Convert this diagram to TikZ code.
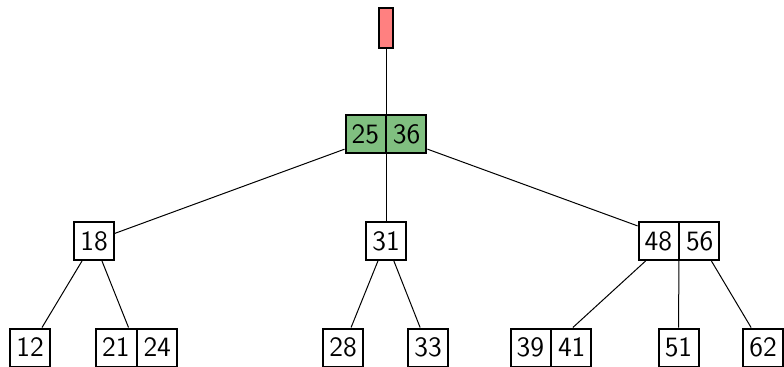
\documentclass[tikz,border=0pt]{standalone}
\usepackage{xcolor}
\usepackage{tikz}
\usetikzlibrary{shapes.multipart, positioning}

\begin{document}
\begin{tikzpicture}[
    x=0.5pt, y=-0.5pt,
    key/.style={rectangle, draw, line width=1pt, minimum width=20pt, minimum height=19pt, inner xsep=3pt, inner ysep=0pt, font=\sffamily\fontsize{14}{17}\selectfont},
    pair/.style={key, rectangle split, rectangle split horizontal, rectangle split parts=2},
    rootbox/.style={rectangle, draw, line width=1pt, fill=red!50, minimum width=7pt, minimum height=20pt, inner sep=0pt},
    link/.style={draw, line width=0.5pt}
]
\useasboundingbox (0,0) rectangle (784,366);

% root pointer and root node
\node [rootbox] (top) at (386,28) {};
\node [pair, fill=green!50!black!50] (n2536) at (386,134) {25 \nodepart{two} 36};

% level 1
\node [key] (n18) at (94,241) {18};
\node [key] (n31) at (386,241) {31};
\node [pair] (n4856) at (679,241) {48 \nodepart{two} 56};

% leaves
\node [key] (n12) at (30,347.5) {12};
\node [pair] (n2124) at (136.5,347.5) {21 \nodepart{two} 24};
\node [key] (n28) at (343,347.5) {28};
\node [key] (n33) at (428,347.5) {33};
\node [pair] (n3941) at (551,347.5) {39 \nodepart{two} 41};
\node [key] (n51) at (678.5,347.5) {51};
\node [key] (n62) at (763,347.5) {62};

\path [link] (top) -- (n2536);
\path [link] (n2536) -- (n18);
\path [link] (n2536) -- (n31);
\path [link] (n2536) -- (n4856);
\path [link] (n18) -- (n12);
\path [link] (n18) -- (n2124);
\path [link] (n31) -- (n28);
\path [link] (n31) -- (n33);
\path [link] ([xshift=4pt]n4856.south west) -- (n3941);
\path [link] (n4856) -- (n51);
\path [link] ([xshift=-4.5pt]n4856.south east) -- (n62);

\end{tikzpicture}
\end{document}
